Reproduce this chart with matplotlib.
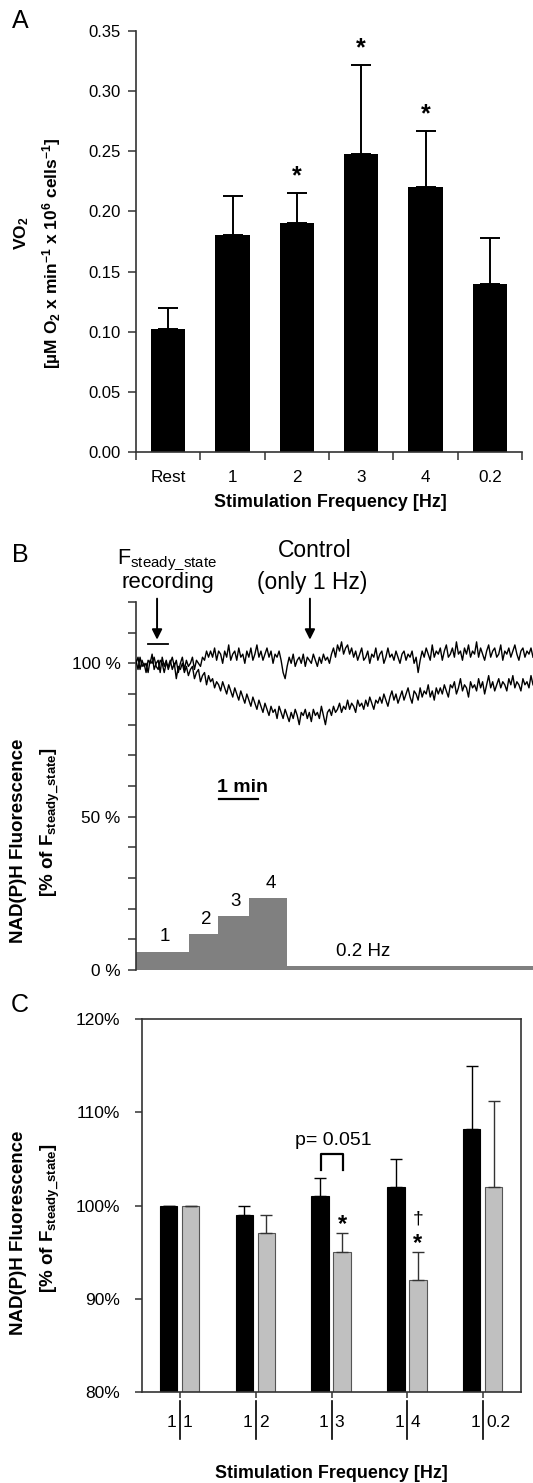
import numpy as np
import matplotlib.pyplot as plt
from matplotlib.transforms import blended_transform_factory

plt.rcParams['font.family'] = ['Liberation Sans', 'DejaVu Sans']
plt.rcParams['mathtext.fontset'] = 'custom'
plt.rcParams['mathtext.rm'] = 'Liberation Sans'
plt.rcParams['mathtext.bf'] = 'Liberation Sans:bold'
plt.rcParams['mathtext.it'] = 'Liberation Sans:italic'

# ---- data ----
# A: oxygen consumption
freq_a = ['Rest', '1', '2', '3', '4', '0.2']
vo2 = [0.102, 0.180, 0.190, 0.248, 0.220, 0.140]
vo2_err = [0.018, 0.033, 0.025, 0.074, 0.047, 0.038]
sig_a = [False, False, True, True, True, False]

# B: stimulation protocol (minutes) and two NAD(P)H recordings (% of F_steady_state)
step_edges = [0, 1.36, 2.10, 2.90, 3.87, 10.18]
step_height = [6, 11.8, 17.6, 23.5, 1.4]
step_labels = ['1', '2', '3', '4', '0.2 Hz']
trace_control = [101, 98, 102, 99, 100, 97, 101, 100, 103, 98, 100, 101, 97, 102, 99, 101, 98, 100, 102, 99,
                 101, 97, 100, 102, 98, 101, 99, 100, 102, 98, 101, 100,
                 99, 102, 101, 104, 102, 104,
                 102, 105, 101, 104, 103, 100, 104, 102, 106, 101, 103, 104, 101, 105, 102, 103, 100, 104,
                 102, 105, 101, 103, 106, 102, 104, 101, 103, 105, 102, 104, 100, 103, 102, 104, 101,
                 97, 95,
                 99, 102, 100, 103, 99, 101, 102, 100, 103, 99, 102, 101, 100, 103, 101, 99, 102, 100, 103, 101,
                 102, 100,
                 103, 105, 102, 106, 104, 107, 103, 105, 106, 103, 105, 102,
                 104, 101, 103, 105, 101, 102, 104, 100, 103, 102, 105, 101, 103, 104, 100, 102, 105, 102, 103,
                 101, 104, 102, 100, 103, 104, 101, 103, 102, 104, 100, 102,
                 97,
                 101, 104, 102, 105, 103, 101, 106, 102, 104, 103, 105, 101, 104, 106, 102, 103, 105, 102, 107,
                 103, 104, 101, 105, 103, 106, 102, 104, 103, 107, 102, 105, 103, 101, 104, 106, 102, 104, 105,
                 102, 103, 106, 101, 104, 103, 105, 102, 104, 106, 103, 101, 104, 105, 102, 104, 103, 105, 102]
trace_stim = [100, 102, 98, 101, 99, 100, 97, 101, 100, 102, 99, 98, 101, 100, 97, 100, 99, 101, 98, 100,
              95, 99,
              98, 100, 97, 99, 96, 98, 99, 95, 97, 98, 94, 96, 97, 93, 96, 94, 95, 92, 94, 93, 91, 94, 92, 90,
              93, 91, 89, 92,
              90, 88, 91, 89, 87, 90, 88, 86, 89, 87, 85, 88, 86, 84, 87, 85, 83, 86, 84, 85, 82, 86, 84,
              82, 85, 83, 81, 84, 82, 85, 83, 80, 84, 83, 85, 82, 84, 81, 85, 83, 84, 82, 86, 83, 80, 84, 85, 83,
              86, 84, 85, 87, 84, 86, 85, 88, 85, 87, 86, 84, 88, 86, 87, 85, 88, 86, 89, 87, 85, 88, 87,
              89, 87, 90, 88, 86, 89, 91, 88, 90, 87, 89, 91, 88, 90, 92, 89, 87, 91, 90, 88, 92, 89, 91, 90,
              93, 89, 91, 88, 92, 90,
              92, 90, 93, 91, 89, 93, 92, 94, 90, 92, 95, 91, 93, 92, 89, 94, 92, 93, 91, 95, 92, 94, 90, 93,
              96, 92, 94, 91, 93, 95, 92, 94, 93, 91, 95, 93, 96, 92, 94, 93, 91, 95, 93, 94, 92, 96, 93]

# C: NAD(P)H fluorescence, 1 Hz (black) vs test frequency (gray)
freq_c = ['1', '2', '3', '4', '0.2']
nadh_1hz = [100, 99, 101, 102, 108.2]
nadh_1hz_err = [0, 1, 2, 3, 6.8]
nadh_test = [100, 97, 95, 92, 102]
nadh_test_err = [0, 2, 2, 3, 9.2]

W, H = 533, 1483
fig = plt.figure(figsize=(W / 100, H / 100), dpi=100)


def box(l, t, r, b):
    return [l / W, 1 - b / H, (r - l) / W, (b - t) / H]


def ftext(x, y, s, **kw):
    fig.text(x / W, 1 - y / H, s, ha='center', va='center', **kw)


spine_c = '#333333'

# ---------------- A ----------------
axA = fig.add_axes(box(136, 31, 522, 452))
xa = np.arange(len(freq_a))
axA.bar(xa, vo2, width=0.53, color='black', zorder=2)
axA.errorbar(xa, vo2, yerr=[[0] * len(vo2), vo2_err], fmt='none', ecolor='black',
             elinewidth=1.4, capsize=7, capthick=1.4, zorder=3)
for i in range(len(vo2)):
    if sig_a[i]:
        axA.text(xa[i], vo2[i] + vo2_err[i] + 0.004, '*', ha='center', va='bottom',
                 fontsize=18, fontweight='bold')
axA.set_xlim(-0.5, 5.5)
axA.set_ylim(0, 0.35)
axA.set_yticks(np.arange(0, 0.36, 0.05))
axA.set_yticklabels(['%.2f' % v for v in np.arange(0, 0.36, 0.05)])
axA.set_xticks(xa)
axA.set_xticklabels(freq_a)
axA.set_xticks(np.arange(-0.5, 5.6, 1), minor=True)
axA.tick_params(axis='x', which='major', length=0, pad=13, labelsize=12.3)
axA.tick_params(axis='x', which='minor', length=6, width=1.1, color=spine_c)
axA.tick_params(axis='y', length=6, width=1.1, pad=5, labelsize=12, color=spine_c)
for s in ['top', 'right']:
    axA.spines[s].set_visible(False)
for s in ['left', 'bottom']:
    axA.spines[s].set_color(spine_c)
    axA.spines[s].set_linewidth(1.2)

ftext(20, 21, 'A', fontsize=18)
ftext(22, 233, 'VO$_\\mathbf{2}$', fontsize=12.5, fontweight='bold', rotation=90)
ftext(52, 253, '[µM O$_\\mathbf{2}$ x min$^\\mathbf{-1}$ x 10$^\\mathbf{6}$ cells$^\\mathbf{-1}$]',
      fontsize=12.5, fontweight='bold', rotation=90)
ftext(330, 503, 'Stimulation Frequency [Hz]', fontsize=12.9, fontweight='bold')

# ---------------- B ----------------
axB = fig.add_axes(box(136, 602, 533, 970))
t1 = np.linspace(0, step_edges[-1], len(trace_control))
t2 = np.linspace(0, step_edges[-1], len(trace_stim))
axB.stairs(step_height, step_edges, fill=True, color='#808080', zorder=1)
axB.plot(t1, trace_control, color='black', lw=1.0, zorder=3)
axB.plot(t2, trace_stim, color='black', lw=1.0, zorder=3)
for i, lab in enumerate(step_labels):
    if i < 4:
        xc_ = (step_edges[i] + step_edges[i + 1]) / 2 + 0.06
    else:
        xc_ = 5.82
    axB.text(xc_, step_height[i] + 2.0, lab, ha='center', va='bottom', fontsize=13.5)
axB.set_xlim(0, step_edges[-1])
axB.set_ylim(0, 120)
axB.set_yticks(np.arange(0, 121, 10))
axB.set_yticklabels(['0 %' if v == 0 else '50 %' if v == 50 else '100 %' if v == 100 else ''
                     for v in range(0, 121, 10)])
axB.tick_params(axis='y', length=6, width=1.1, pad=5, labelsize=12.4, color=spine_c)
axB.set_xticks([])
for s in ['top', 'right', 'bottom']:
    axB.spines[s].set_visible(False)
axB.spines['left'].set_color(spine_c)
axB.spines['left'].set_linewidth(1.2)

# recording marker and arrows
axB.plot([0.31, 0.82], [106.2, 106.2], color='black', lw=1.3, clip_on=False)
for xa_ in [0.54, 4.46]:
    axB.annotate('', xy=(xa_, 106.8), xytext=(xa_, 122), annotation_clip=False,
                 arrowprops=dict(arrowstyle='-|>', color='black', lw=1.4, mutation_scale=15))
axB.text(0.79, 133.5, 'F$_{\\mathrm{steady\\_state}}$', ha='center', va='center', fontsize=15.5, clip_on=False)
axB.text(0.82, 126.4, 'recording', ha='center', va='center', fontsize=16, clip_on=False)
axB.text(4.59, 136.8, 'Control', ha='center', va='center', fontsize=16.5, clip_on=False)
axB.text(4.51, 126.4, '(only 1 Hz)', ha='center', va='center', fontsize=16.5, clip_on=False)
# 1 min scale bar
axB.plot([2.13, 3.13], [55.7, 55.7], color='black', lw=1.6)
axB.text(2.72, 59.6, '1 min', ha='center', va='center', fontsize=14, fontweight='bold')

ftext(20, 555, 'B', fontsize=18)
ftext(19, 841, 'NAD(P)H Fluorescence', fontsize=13.5, fontweight='bold', rotation=90)
ftext(50, 822, '[% of F$_\\mathbf{steady\\_state}$]', fontsize=13.5, fontweight='bold', rotation=90)

# ---------------- C ----------------
axC = fig.add_axes(box(142, 1019, 521, 1392))
xc = np.arange(len(freq_c))
axC.bar(xc - 0.15, nadh_1hz, width=0.23, color='black', edgecolor='black', lw=0.8, zorder=2)
axC.bar(xc + 0.14, nadh_test, width=0.23, color='#c0c0c0', edgecolor='#555555', lw=0.8, zorder=2)
axC.errorbar(xc - 0.15, nadh_1hz, yerr=[[0] * 5, nadh_1hz_err], fmt='none', ecolor='black',
             elinewidth=1.0, capsize=4, capthick=1.0, zorder=3)
axC.errorbar(xc + 0.14, nadh_test, yerr=[[0] * 5, nadh_test_err], fmt='none', ecolor='#333333',
             elinewidth=1.0, capsize=4, capthick=1.0, zorder=3)
for i in [2, 3]:
    axC.text(xc[i] + 0.14, nadh_test[i] + nadh_test_err[i] - 0.3, '*', ha='center', va='bottom',
             fontsize=17, fontweight='bold')
axC.text(xc[3] + 0.14, nadh_test[3] + nadh_test_err[3] + 2.6, '†', ha='center', va='bottom', fontsize=14)
# p = 0.051 bracket
axC.plot([xc[2] - 0.14, xc[2] - 0.14, xc[2] + 0.15, xc[2] + 0.15], [103.8, 105.5, 105.5, 103.8],
         color='black', lw=1.6)
axC.text(xc[2] + 0.02, 107.0, 'p= 0.051', ha='center', va='center', fontsize=14)
axC.set_xlim(-0.5, 4.5)
axC.set_ylim(80, 120)
axC.set_yticks([80, 90, 100, 110, 120])
axC.set_yticklabels(['80%', '90%', '100%', '110%', '120%'])
axC.set_xticks(xc)
axC.set_xticklabels([])
axC.tick_params(axis='x', length=4, width=1.1, color=spine_c)
axC.tick_params(axis='y', length=5, width=1.1, pad=11, labelsize=12.5, color=spine_c)
for s in axC.spines.values():
    s.set_color(spine_c)
    s.set_linewidth(1.2)
tr = blended_transform_factory(axC.transData, axC.transAxes)
for i in range(len(freq_c)):
    axC.plot([xc[i], xc[i]], [-0.025, -0.127], color='black', lw=1.2, transform=tr, clip_on=False)
    axC.text(xc[i] - 0.04, -0.083, '1', ha='right', va='center', fontsize=12.5, transform=tr)
    axC.text(xc[i] + 0.04, -0.083, freq_c[i], ha='left', va='center', fontsize=12.5, transform=tr)

ftext(20, 1005, 'C', fontsize=18)
ftext(19, 1233, 'NAD(P)H Fluorescence', fontsize=13.5, fontweight='bold', rotation=90)
ftext(50, 1218, '[% of F$_\\mathbf{steady\\_state}$]', fontsize=13.5, fontweight='bold', rotation=90)
ftext(331, 1474, 'Stimulation Frequency [Hz]', fontsize=12.9, fontweight='bold')

fig.savefig('out.png', dpi=100)
